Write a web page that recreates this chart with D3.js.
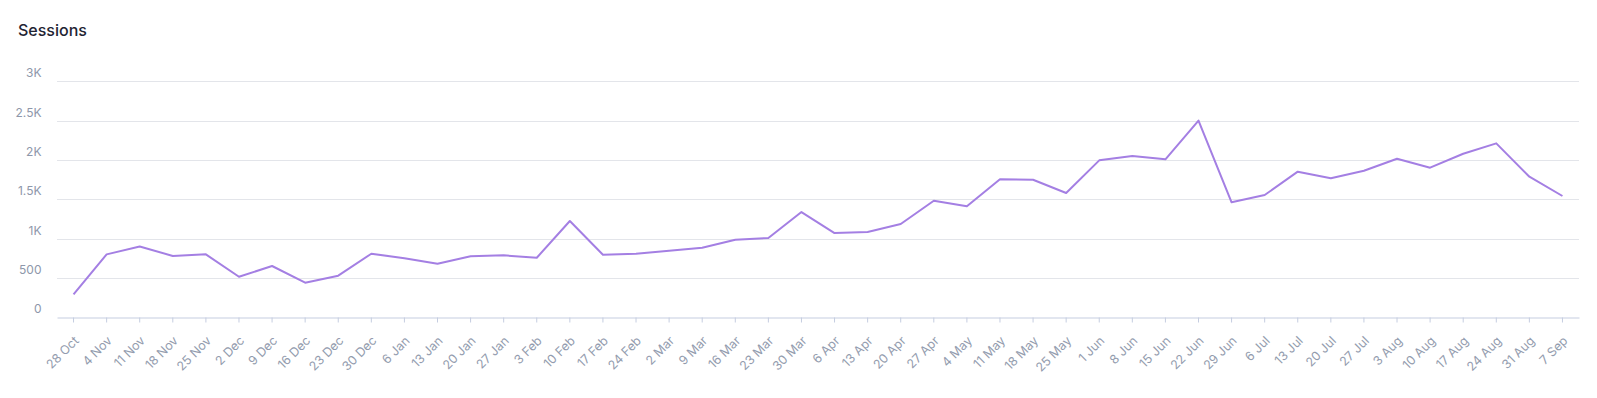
<!DOCTYPE html>
<html lang="en">
<head>
  <meta charset="UTF-8">
  <title>Sessions</title>
  <style>
    body { margin: 0; background: #fff; }
    text { font-family: Inter, "Noto Sans", sans-serif; }
  </style>
</head>
<body>

  <svg id="svg" width="1597" height="398"></svg>

  <script src="https://d3js.org/d3.v7.min.js"></script>
  <script>

    const weeks = ['28 Oct', '4 Nov', '11 Nov', '18 Nov', '25 Nov', '2 Dec', '9 Dec', '16 Dec', '23 Dec', '30 Dec',
      '6 Jan', '13 Jan', '20 Jan', '27 Jan', '3 Feb', '10 Feb', '17 Feb', '24 Feb', '2 Mar', '9 Mar',
      '16 Mar', '23 Mar', '30 Mar', '6 Apr', '13 Apr', '20 Apr', '27 Apr', '4 May', '11 May', '18 May',
      '25 May', '1 Jun', '8 Jun', '15 Jun', '22 Jun', '29 Jun', '6 Jul', '13 Jul', '20 Jul', '27 Jul',
      '3 Aug', '10 Aug', '17 Aug', '24 Aug', '31 Aug', '7 Sep']

    const sessions = [290, 800, 900, 780, 800, 515, 652, 440, 529, 808,
      752, 681, 775, 788, 757, 1224, 796, 808, 846, 885,
      986, 1008, 1338, 1071, 1084, 1186, 1482, 1411, 1754, 1749,
      1580, 1995, 2050, 2008, 2500, 1462, 1554, 1851, 1767, 1863,
      2016, 1902, 2079, 2211, 1787, 1542]

    const yTicks = [0, 500, 1000, 1500, 2000, 2500, 3000]
    const yTickLabels = ['0', '500', '1K', '1.5K', '2K', '2.5K', '3K']

    const svg = d3.select('#svg')

    const plotLeft = 57, plotRight = 1579, plotTop = 81.3, plotBottom = 317.3

    // band centres give the point positions
    const xScale = d3.scaleBand()
      .domain(weeks)
      .range([plotLeft, plotRight])

    const yScale = d3.scaleLinear()
      .domain([0, 3000])
      .range([plotBottom, plotTop])

    svg.append('text')
      .attr('x', 18)
      .attr('y', 36)
      .attr('font-size', 16)
      .attr('font-weight', 500)
      .attr('fill', '#1f2433')
      .text('Sessions')

    // gridlines
    svg.append('g')
      .selectAll('line')
      .data(yTicks.slice(1))
      .enter()
      .append('line')
      .attr('x1', plotLeft)
      .attr('x2', plotRight)
      .attr('y1', d => Math.round(yScale(d)) + 0.5)
      .attr('y2', d => Math.round(yScale(d)) + 0.5)
      .attr('stroke', '#e3e5ea')
      .attr('stroke-width', 1)

    // y labels sit above their lines
    svg.append('g')
      .selectAll('text')
      .data(yTicks)
      .enter()
      .append('text')
      .attr('x', 41.5)
      .attr('y', d => yScale(d) - 4)
      .attr('text-anchor', 'end')
      .attr('font-size', 12)
      .attr('fill', '#8e97aa')
      .text((d, i) => yTickLabels[i])

    // x axis
    const xAxis = d3.axisBottom(xScale).tickSize(5).tickSizeOuter(0)
    const gx = svg.append('g')
      .attr('transform', `translate(0,${Math.round(plotBottom) + 0.5})`)
      .call(xAxis)

    gx.select('.domain').attr('stroke', '#c5cde0')
    gx.selectAll('.tick line').attr('stroke', '#c5cde0')
    gx.selectAll('.tick text')
      .attr('font-family', 'Inter, "Noto Sans", sans-serif')
      .attr('font-size', 12.5)
      .attr('fill', '#939cae')
      .attr('text-anchor', 'end')
      .attr('dy', 0)
      .attr('transform', 'translate(6,24) rotate(-45)')
      .attr('y', 0)
      .attr('x', 0)

    const line = d3.line()
      .x((d, i) => xScale(weeks[i]) + xScale.bandwidth() / 2)
      .y(d => yScale(d))

    svg.append('path')
      .datum(sessions)
      .attr('d', line)
      .attr('fill', 'none')
      .attr('stroke', '#a47fe3')
      .attr('stroke-width', 2)
      .attr('stroke-linejoin', 'round')

  </script>
</body>
</html>
